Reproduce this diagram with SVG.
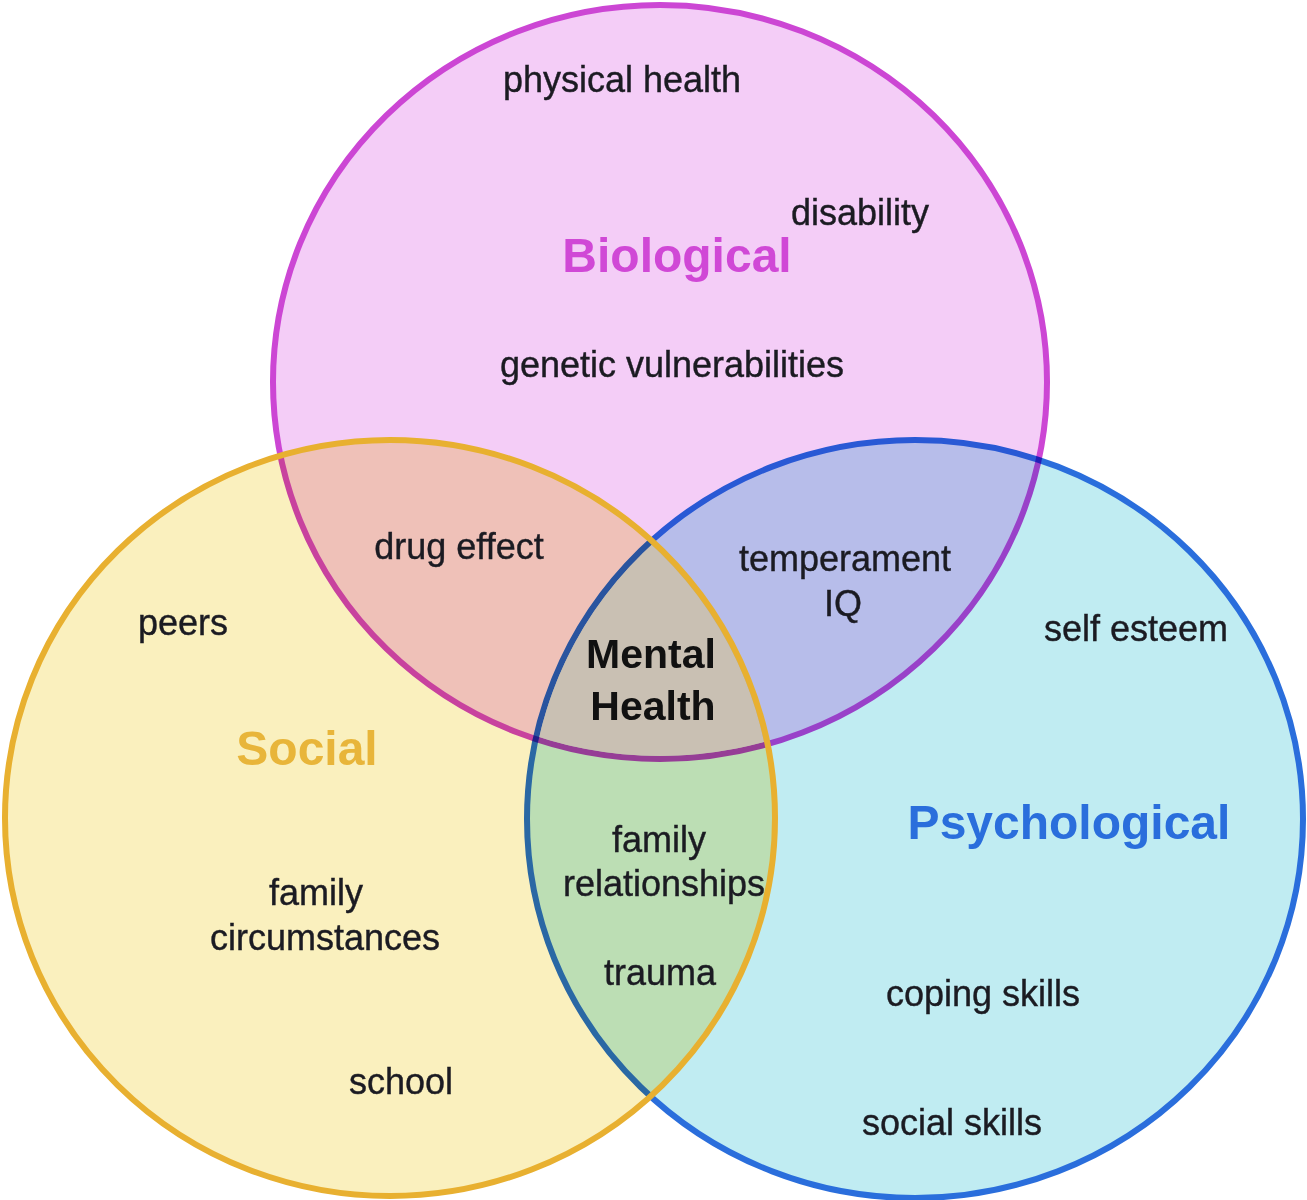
<svg xmlns="http://www.w3.org/2000/svg" width="1307" height="1200" viewBox="0 0 1307 1200">
  <style>
    .lbl { font-family: "Liberation Sans", Arial, sans-serif; font-size: 36px; fill: #1b1b22; stroke: #1b1b22; stroke-width: 0.4; text-anchor: middle; }
    .head { font-family: "Liberation Sans", Arial, sans-serif; font-size: 48px; font-weight: bold; text-anchor: middle; }
    .core { font-family: "Liberation Sans", Arial, sans-serif; font-size: 41px; font-weight: bold; fill: #111111; text-anchor: middle; }
    .mul { mix-blend-mode: multiply; }
  </style>
  <defs>
    <clipPath id="clipSoc"><ellipse cx="390" cy="818" rx="382" ry="375"/></clipPath>
    <clipPath id="clipPsy"><ellipse cx="915" cy="819" rx="385" ry="376"/></clipPath>
  </defs>
  <rect x="0" y="0" width="1307" height="1200" fill="#ffffff"/>

  <g id="biological">
    <ellipse cx="660" cy="382" rx="387" ry="377" fill="#f4cdf7" stroke="#cc46d4" stroke-width="6"/>
  </g>
  <g id="psychological">
    <ellipse class="mul" cx="915" cy="819" rx="388" ry="379" fill="#c0ecf2" stroke="#2a6edc" stroke-width="6"/>
  </g>
  <g id="social">
    <ellipse class="mul" cx="390" cy="818" rx="385" ry="378" fill="#faf0be" stroke="none"/>
  </g>
  <g id="center-region" clip-path="url(#clipSoc)">
    <g clip-path="url(#clipPsy)">
      <ellipse cx="660" cy="382" rx="384" ry="374" fill="#c9c0b3"/>
    </g>
  </g>
  <g id="social-outline">
    <ellipse cx="390" cy="818" rx="385" ry="378" fill="none" stroke="#e8b030" stroke-width="6"/>
  </g>

  <g id="connectors"/>

  <g id="biological-labels">
    <text class="head" x="677" y="272" fill="#d048d6">Biological</text>
    <text class="lbl" x="622" y="92">physical health</text>
    <text class="lbl" x="860" y="225">disability</text>
    <text class="lbl" x="672" y="377">genetic vulnerabilities</text>
  </g>
  <g id="social-labels">
    <text class="head" x="307" y="765" fill="#e8b53a">Social</text>
    <text class="lbl" x="183" y="635">peers</text>
    <text class="lbl" x="316" y="905">family</text>
    <text class="lbl" x="325" y="950">circumstances</text>
    <text class="lbl" x="401" y="1094">school</text>
  </g>
  <g id="psychological-labels">
    <text class="head" x="1069" y="839" fill="#2a6edc">Psychological</text>
    <text class="lbl" x="1136" y="641">self esteem</text>
    <text class="lbl" x="983" y="1006">coping skills</text>
    <text class="lbl" x="952" y="1135">social skills</text>
  </g>
  <g id="bio-social">
    <text class="lbl" x="459" y="559">drug effect</text>
  </g>
  <g id="bio-psych">
    <text class="lbl" x="845" y="571">temperament</text>
    <text class="lbl" x="843" y="616">IQ</text>
  </g>
  <g id="social-psych">
    <text class="lbl" x="659" y="852">family</text>
    <text class="lbl" x="664" y="896">relationships</text>
    <text class="lbl" x="660" y="985">trauma</text>
  </g>
  <g id="mental-health">
    <text class="core" x="651" y="668">Mental</text>
    <text class="core" x="653" y="720">Health</text>
  </g>
</svg>
